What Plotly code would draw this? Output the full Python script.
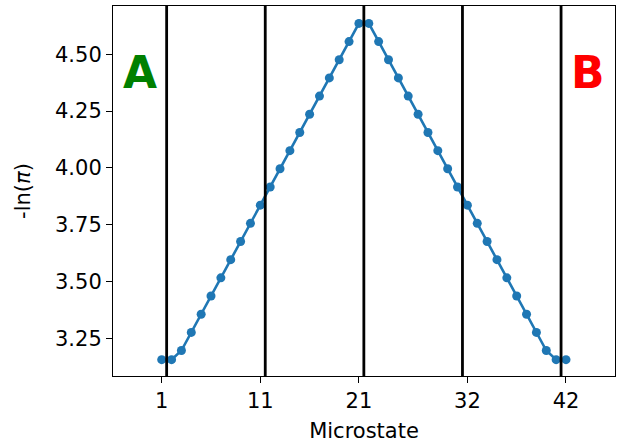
import plotly.graph_objects as go

microstates = list(range(1, 43))
neg_ln_pi = [3.156, 3.156, 3.196, 3.276, 3.356, 3.436, 3.516, 3.596, 3.676, 3.756,
             3.836, 3.916, 3.996, 4.076, 4.156, 4.236, 4.316, 4.396, 4.476, 4.556,
             4.636, 4.636, 4.556, 4.476, 4.396, 4.316, 4.236, 4.156, 4.076, 3.996,
             3.916, 3.836, 3.756, 3.676, 3.596, 3.516, 3.436, 3.356, 3.276, 3.196,
             3.156, 3.156]
boundaries = [1.5, 11.5, 21.5, 31.5, 41.5]
x_tickvals = [1, 11, 21, 32, 42]
x_ticktext = ["1", "11", "21", "32", "42"]
y_tickvals = [3.25, 3.50, 3.75, 4.00, 4.25, 4.50]
labels = [("A", -1.2, 4.418, "green"), ("B", 44.23, 4.418, "red")]

FONT = "DejaVu Sans"

fig = go.Figure()
fig.add_trace(go.Scatter(
    x=microstates, y=neg_ln_pi, mode="lines+markers",
    line=dict(color="#1f77b4", width=2.6),
    marker=dict(color="#1f77b4", size=9),
    showlegend=False, cliponaxis=False,
))

for b in boundaries:
    fig.add_shape(type="line", x0=b, x1=b, xref="x", y0=0, y1=1, yref="paper",
                  line=dict(color="black", width=2.8), layer="above")

for txt, lx, ly, col in labels:
    fig.add_annotation(x=lx, y=ly, xref="x", yref="y", text="<b>%s</b>" % txt,
                       showarrow=False, font=dict(family=FONT, size=44, color=col),
                       xanchor="center", yanchor="middle")

axis_common = dict(
    showline=True, linecolor="black", linewidth=1.1, mirror=True,
    ticks="outside", ticklen=6, tickwidth=1.1, tickcolor="black",
    showgrid=False, zeroline=False,
    tickfont=dict(family=FONT, size=21, color="black"),
)

fig.update_xaxes(
    range=[-3.94, 46.97], tickvals=x_tickvals, ticktext=x_ticktext,
    title=dict(text="Microstate", font=dict(family=FONT, size=21, color="black"), standoff=13),
    **axis_common,
)
fig.update_yaxes(
    range=[3.084, 4.7126], tickvals=y_tickvals, tickformat=".2f",
    title=dict(text="-ln(<i>π</i>)", font=dict(family=FONT, size=21, color="black"), standoff=18),
    **axis_common,
)

fig.update_layout(
    width=617, height=443,
    margin=dict(l=113, r=2, t=6, b=67),
    paper_bgcolor="white", plot_bgcolor="white",
    font=dict(family=FONT, color="black"),
)

fig.write_html("out.html")
